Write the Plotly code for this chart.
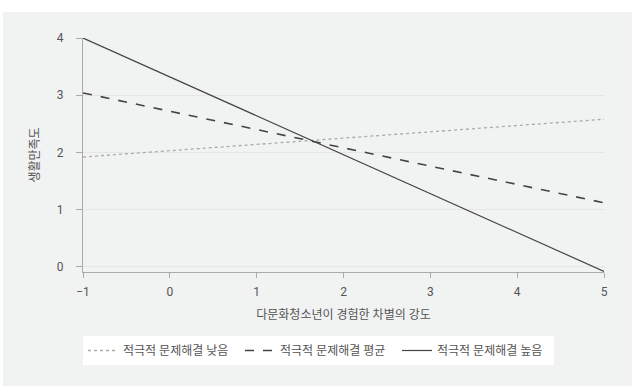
import plotly.graph_objects as go

x_vals = [-1, 5]
low_vals = [1.92, 2.58]
mean_vals = [3.04, 1.12]
high_vals = [4.0, -0.08]
series_names = ["적극적 문제해결 낮음", "적극적 문제해결 평균", "적극적 문제해결 높음"]
y_ticks = [0, 1, 2, 3, 4]
x_ticks = [-1, 0, 1, 2, 3, 4, 5]

FONT = "Roboto, 'Noto Sans CJK KR', sans-serif"
fig = go.Figure()
fig.add_trace(go.Scatter(x=x_vals, y=low_vals, mode="lines", name=series_names[0],
                         line=dict(color="#aaaaaa", width=1.3, dash="dot")))
fig.add_trace(go.Scatter(x=x_vals, y=mean_vals, mode="lines", name=series_names[1],
                         line=dict(color="#444444", width=1.6, dash="dash")))
fig.add_trace(go.Scatter(x=x_vals, y=high_vals, mode="lines", name=series_names[2],
                         line=dict(color="#444444", width=1.2)))

L, R, T, B = 83, 32, 38, 114
W, H = 636, 386
pw, ph = W - L - R, H - T - B

def px(xp):
    return (xp - L) / pw

def py(yp):
    return (H - B - yp) / ph

fig.add_shape(type="rect", xref="paper", yref="paper",
              x0=px(3), x1=px(632), y0=py(392), y1=py(12),
              fillcolor="#f1f2f2", line=dict(width=0), layer="below")

fig.update_layout(
    width=W, height=H,
    margin=dict(l=L, r=R, t=T, b=B),
    paper_bgcolor="white", plot_bgcolor="white",
    font=dict(family=FONT, size=12, color="#555555"),
    showlegend=True,
    legend=dict(orientation="h", x=px(83), xanchor="left", y=py(336), yanchor="top",
                bgcolor="white", font=dict(size=12, color="#555555"),
                itemwidth=30, tracegroupgap=0, entrywidth=112),
    xaxis=dict(range=[-1, 5], tickvals=x_ticks, showgrid=False, zeroline=False,
               showline=True, linecolor="#aaaaaa", linewidth=1,
               ticks="outside", ticklen=5, tickcolor="#aaaaaa", ticklabelstandoff=4,
               title=dict(text="다문화청소년이 경험한 차별의 강도", standoff=12,
                          font=dict(size=12, color="#555555"))),
    yaxis=dict(range=[-0.09, 4.0], tickvals=y_ticks, showgrid=True, gridcolor="#e6e6e6",
               zeroline=False, showline=True, linecolor="#aaaaaa", linewidth=1,
               ticks="outside", ticklen=6, tickcolor="#aaaaaa", ticklabelstandoff=10,
               title=dict(text="생활만족도", standoff=14, font=dict(size=12, color="#555555"))),
)
fig.write_html("out.html")
